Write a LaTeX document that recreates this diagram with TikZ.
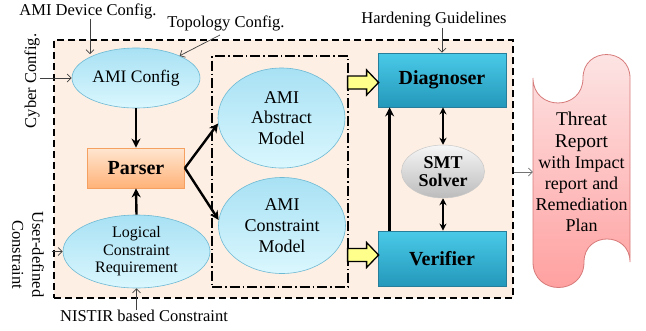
\documentclass[tikz,border=0pt]{standalone}
\usepackage{fontspec}
\setmainfont{Liberation Serif}
\usetikzlibrary{arrows.meta,shapes.geometric,calc}
\definecolor{peach}{RGB}{253,239,227}
\definecolor{cyT}{RGB}{168,225,244}
\definecolor{cyB}{RGB}{218,247,254}
\definecolor{cyD}{RGB}{110,185,212}
\definecolor{orT}{RGB}{255,230,208}
\definecolor{orB}{RGB}{255,178,120}
\definecolor{orD}{RGB}{245,160,96}
\definecolor{blT}{RGB}{74,202,232}
\definecolor{blB}{RGB}{36,152,186}
\definecolor{blD}{RGB}{38,126,154}
\definecolor{grT}{RGB}{246,246,246}
\definecolor{grB}{RGB}{188,188,188}
\definecolor{grD}{RGB}{200,200,200}
\definecolor{pkT}{RGB}{253,230,230}
\definecolor{pkB}{RGB}{255,158,158}
\definecolor{pkD}{RGB}{215,122,122}
\definecolor{ylw}{RGB}{255,255,140}
\begin{document}
\begin{tikzpicture}[x=1pt,y=-1pt,
  lbl/.style={font=\fontsize{16.5}{19}\selectfont, inner sep=0pt},
  cyell/.style={ellipse, draw=cyD, line width=0.6pt, top color=cyT, bottom color=cyB, inner sep=0pt, align=center},
  orbox/.style={rectangle, draw=orD, line width=0.8pt, top color=orT, bottom color=orB, inner sep=0pt, font=\fontsize{20}{22}\selectfont\bfseries},
  blbox/.style={rectangle, draw=blD, line width=0.8pt, top color=blT, bottom color=blB, inner sep=0pt, minimum width=128pt, font=\fontsize{20}{22}\selectfont\bfseries},
  thn/.style={line width=0.7pt, draw=black!75, -{Straight Barb[length=4pt,width=8pt]}},
  thk/.style={line width=2.4pt, -{Stealth[length=9pt,width=9pt]}},
  dbl/.style={line width=1.8pt, {Stealth[length=7pt,width=7pt]}-{Stealth[length=7pt,width=7pt]}},
  yarr/.style={draw=black, line width=1.3pt, fill=ylw, line join=miter}
]
\useasboundingbox (0,0) rectangle (646,330);

% containers
\node[draw, line width=1.8pt, dash pattern=on 7pt off 4pt, fill=peach,
      minimum width=459pt, minimum height=258pt, inner sep=0pt] (outer) at (283.5,169) {};
\node[draw, line width=1.4pt, dash pattern=on 10pt off 3pt on 1.5pt off 3pt,
      minimum width=136pt, minimum height=231pt, inner sep=0pt] (inner) at (280,171.5) {};

% nodes
\node[cyell, minimum width=128pt, minimum height=60pt, font=\fontsize{17.5}{20}\selectfont] (amicfg) at (136,78) {AMI Config};
\node[orbox, minimum width=97pt, minimum height=40pt] (parser) at (136,168) {Parser};
\node[cyell, minimum width=147pt, minimum height=73pt, font=\fontsize{16}{17.5}\selectfont] (logic) at (136.5,251.5) {Logical\\Constraint\\Requirement};
\node[cyell, minimum width=127pt, minimum height=100pt, font=\fontsize{18}{20.5}\selectfont] (abstract) at (281.5,118) {AMI\\Abstract\\Model};
\node[cyell, minimum width=127pt, minimum height=96pt, font=\fontsize{18}{21}\selectfont] (constraint) at (282,225.5) {AMI\\Constraint\\Model};
\node[blbox, minimum height=54pt] (diag) at (442,80) {Diagnoser};
\node[blbox, minimum height=55pt] (verif) at (442,258.5) {Verifier};
\node[ellipse, draw=grD, line width=0.5pt, top color=grT, bottom color=grB, inner sep=0pt, align=center,
      minimum width=83pt, minimum height=53pt, font=\fontsize{18}{18.5}\selectfont\bfseries] (smt) at (443,171.5) {SMT\\Solver};

% threat report
\path[draw=pkD, line width=0.8pt, top color=pkT, bottom color=pkB]
  (533,78) .. controls (533,111.3) and (583,111.3) .. (583,78)
  .. controls (583,46.7) and (630,46.7) .. (630,78)
  -- (630,262)
  .. controls (630,231.3) and (584,231.3) .. (584,262)
  .. controls (584,296) and (533,296) .. (533,262)
  -- cycle;
\node[minimum width=97pt, minimum height=185pt, inner sep=0pt, align=center,
      font=\fontsize{18}{21}\selectfont] (threat) at (581.5,172)
  {{\fontsize{19.5}{23}\selectfont Threat}\\[1pt]{\fontsize{19.5}{23}\selectfont Report}\\with Impact\\report and\\Remediation\\Plan};

% outside labels
\node[lbl] (devlbl) at (88,11) {AMI Device Config.};
\node[lbl] (toplbl) at (226,23) {Topology Config.};
\node[lbl, rotate=90] (cyber) at (32,81) {Cyber Config.};
\node[lbl, rotate=-90, align=center, font=\fontsize{16.5}{20}\selectfont] (user) at (28,254.5) {User-defined\\Constraint};
\node[lbl] (nist) at (144,316) {NISTIR based Constraint};
\node[lbl] (hard) at (434,20) {Hardening Guidelines};

% thin input arrows
\coordinate (devtip) at (90,54);
\coordinate (topstart) at (220,35);
\draw[thn] (devlbl.south -| devtip) -- (devtip);
\draw[thn] (topstart) -- (amicfg.27);
\draw[thn] (cyber.south |- amicfg.west) -- (amicfg.west);
\draw[thn] ($(logic.west)+(-11,0)$) -- (logic.west);
\draw[thn] (nist.north -| logic.south) -- (logic.south);
\draw[thn] (hard.south -| diag.north) -- (diag.north);
\draw[thn, draw=black!55] (outer.east |- threat.west) -- (threat.west);

% thick arrows
\draw[thk] (amicfg.south) -- (parser.north);
\draw[thk] (logic.north) -- (parser.south);
\draw[thk] (parser.east) -- (abstract.185);
\draw[thk] (parser.east) -- (constraint.175);
\draw[thk] ($(verif.north west)+(12,0)$) -- ($(diag.south west)+(12,0)$);
\draw[dbl] (smt.north) -- (smt.north |- diag.south);
\draw[dbl] (smt.south) -- (smt.south |- verif.north);

% yellow block arrows
\draw[yarr] ($(diag.west)+(-30,-4)$) -- ($(diag.west)+(-11,-4)$) -- ($(diag.west)+(-11,-10)$)
  -- ($(diag.west)+(1,2.5)$) -- ($(diag.west)+(-11,15)$) -- ($(diag.west)+(-11,9)$) -- ($(diag.west)+(-30,9)$) -- cycle;
\draw[yarr] ($(verif.west)+(-30,-10)$) -- ($(verif.west)+(-11,-10)$) -- ($(verif.west)+(-11,-16)$)
  -- ($(verif.west)+(1,-3.5)$) -- ($(verif.west)+(-11,9)$) -- ($(verif.west)+(-11,3)$) -- ($(verif.west)+(-30,3)$) -- cycle;
\end{tikzpicture}
\end{document}
